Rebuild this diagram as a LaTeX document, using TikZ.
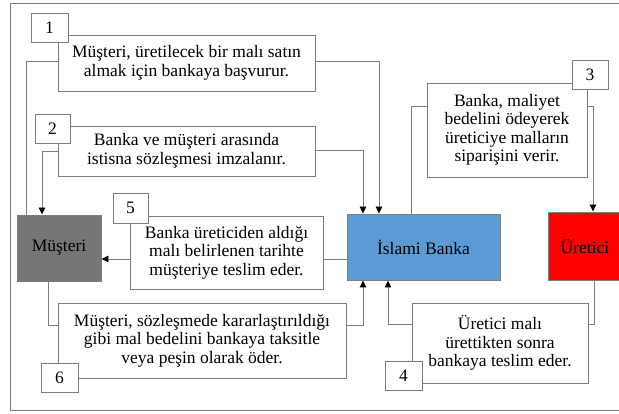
\documentclass[tikz,border=0pt]{standalone}
\usepackage{fontspec}
\setmainfont{Liberation Serif}
\usetikzlibrary{arrows.meta}
\definecolor{linegray}{RGB}{125,125,125}
\definecolor{bankblue}{RGB}{91,155,213}
\definecolor{custgray}{RGB}{118,118,118}
\tikzset{
  x=1pt, y=-1pt,
  txtbox/.style={draw=linegray, fill=white, line width=0.9pt, align=center,
    inner sep=0pt, font=\fontsize{17.5}{18.5}\selectfont},
  numbox/.style={draw=linegray, fill=white, line width=0.9pt, inner sep=0pt,
    minimum width=36pt, minimum height=29pt, font=\fontsize{17.5}{17.5}\selectfont},
  actor/.style={draw=linegray, line width=0.9pt, inner sep=0pt,
    font=\fontsize{17.5}{17.5}\selectfont},
  link/.style={draw=linegray, line width=0.9pt},
  arr/.style={link, -{Triangle[width=6.5pt,length=7pt,color=black]}},
}
\begin{document}
\begin{tikzpicture}
\useasboundingbox (0,0) rectangle (619,414);
\begin{scope}
\clip (0,0) rectangle (619,414);
% outer frame
\draw[draw=linegray, line width=0.9pt] (10,3) rectangle (640,410);

% actors
\node[actor, fill=custgray, minimum width=84pt, minimum height=66pt] (must) at (59,248) {Müşteri};
\node[actor, fill=bankblue, minimum width=153pt, minimum height=66pt] (bank) at (423.5,247) {İslami Banka};
\node[actor, fill=red, minimum width=74pt, minimum height=68pt] (uret) at (585,246) {Üretici};

% step texts
\node[txtbox, minimum width=257pt, minimum height=56pt] (box1) at (186.5,63)
  {Müşteri, üretilecek bir malı satın\\almak için bankaya başvurur.};
\node[txtbox, minimum width=257pt, minimum height=50pt] (box2) at (186.5,151)
  {Banka ve müşteri arasında\\istisna sözleşmesi imzalanır.};
\node[txtbox, minimum width=160pt, minimum height=94pt] (box3) at (507,130)
  {Banka, maliyet\\bedelini ödeyerek\\üreticiye malların\\siparişini verir.};
\node[txtbox, minimum width=176pt, minimum height=80pt] (box4) at (500,343)
  {Üretici malı\\ürettikten sonra\\bankaya teslim eder.};
\node[txtbox, minimum width=193pt, minimum height=73pt] (box5) at (226.5,252.5)
  {Banka üreticiden aldığı\\malı belirlenen tarihte\\müşteriye teslim eder.};
\node[txtbox, minimum width=288pt, minimum height=75pt] (box6) at (202,340.5)
  {Müşteri, sözleşmede kararlaştırıldığı\\gibi mal bedelini bankaya taksitle\\veya peşin olarak öder.};

% connectors
\draw[link] ([yshift=2pt]box1.west) -| ([xshift=-33pt]must.north);
\draw[arr] ([yshift=2pt]box1.east) -| ([xshift=-44.5pt]bank.north);
\draw[arr] (box2.west) -| ([xshift=-17pt]must.north);
\draw[arr] ([yshift=1pt]box2.east) -| ([xshift=-60.5pt]bank.north);
\draw[link] ([xshift=-12.5pt]bank.north) |- ([yshift=24pt]box3.west);
\draw[arr] ([yshift=24pt]box3.east) -| ([xshift=8pt]uret.north);
\draw[link] ([xshift=9pt]uret.south) |- ([yshift=19pt]box4.east);
\draw[arr] ([yshift=19pt]box4.west) -| ([xshift=-35.5pt]bank.south);
\draw[link] ([yshift=-12pt]bank.west) -- ([yshift=-12pt]bank.west -| box5.east);
\draw[arr] ([yshift=-6.5pt]box5.west) -- ([yshift=-6.5pt]box5.west -| must.east);
\draw[link] ([xshift=-11pt]must.south) |- ([yshift=15.5pt]box6.west);
\draw[arr] ([yshift=15.5pt]box6.east) -| ([xshift=-60.5pt]bank.south);

% step numbers
\node[numbox, minimum width=37pt] (n1) at (49.5,27.5) {1};
\node[numbox, minimum width=35pt] (n2) at (52.5,128.5) {2};
\node[numbox] (n3) at (590,74.5) {3};
\node[numbox, minimum width=37pt] (n4) at (403.5,375.5) {4};
\node[numbox, minimum width=35pt, minimum height=30pt] (n5) at (130.5,208) {5};
\node[numbox, minimum width=37pt] (n6) at (59.5,377.5) {6};
\end{scope}
\end{tikzpicture}
\end{document}
